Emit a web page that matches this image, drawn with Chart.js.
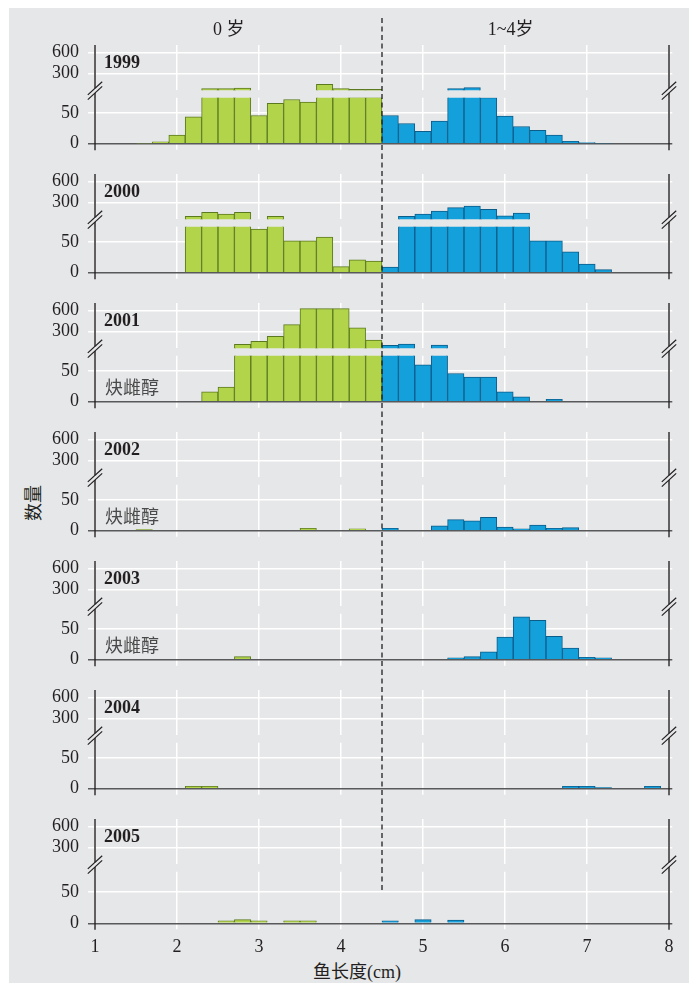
<!DOCTYPE html>
<html>
<head>
<meta charset="utf-8">
<script src="https://cdn.jsdelivr.net/npm/chart.js@4.4.1/dist/chart.umd.min.js"></script>
<style>
	body { margin: 0; background: #fff; }
	#fig { position: relative; width: 697px; height: 984px; overflow: hidden; }
	#bg { position: absolute; left: 9px; top: 8px; width: 680px; height: 975px; background: #e6e7e9; }
	#fig canvas { position: absolute; left: 0; }
	.lbl { position: absolute; color: #231f20; font-size: 18px; white-space: nowrap;
		font-family: "Liberation Serif", "Noto Sans CJK SC", serif; transform: translate(-50%, -50%); }
	#ylab { left: 32px; top: 503px; font-family: "Noto Sans CJK SC", sans-serif; transform: translate(-50%, -50%) rotate(-90deg); }
	#xlab { left: 357px; top: 970px; }
</style>
</head>
<body>
<div id="fig">
	<div id="bg"></div>
	<div class="lbl" id="ylab">数量</div>
	<div class="lbl" id="xlab">鱼长度(cm)</div>
</div>
<script>
// bin centres (cm), bins are 0.2 cm wide
const binCenters = [1.2, 1.4, 1.6, 1.8, 2.0, 2.2, 2.4, 2.6, 2.8, 3.0, 3.2, 3.4, 3.6, 3.8, 4.0, 4.2, 4.4,
	4.6, 4.8, 5.0, 5.2, 5.4, 5.6, 5.8, 6.0, 6.2, 6.4, 6.6, 6.8, 7.0, 7.2, 7.4, 7.6, 7.8];

const years = ['1999', '2000', '2001', '2002', '2003', '2004', '2005'];

const counts1999 = [0, 0, 1, 3, 14, 44, 86, 86, 96, 46, 66, 72, 68, 148, 86, 77, 77,
	46, 33, 20, 37, 86, 100, 75, 45, 28, 22, 14, 4, 2, 1, 0, 0, 0];
const counts2000 = [0, 0, 0, 0, 0, 106, 163, 139, 163, 71, 106, 52, 52, 58, 10, 21, 19,
	9, 106, 139, 181, 229, 253, 205, 114, 153, 52, 52, 34, 14, 5, 0, 0, 0];
const counts2001 = [0, 0, 0, 0, 0, 0, 16, 24, 120, 163, 234, 400, 630, 630, 630, 357, 181,
	106, 124, 60, 110, 46, 40, 40, 16, 8, 0, 4, 0, 0, 0, 0, 0, 0];
const counts2002 = [0, 0, 2, 0, 0, 0, 0, 0, 0, 0, 0, 0, 4, 0, 0, 3, 0,
	4, 0, 0, 8, 18, 16, 22, 6, 3, 9, 4, 5, 0, 0, 0, 0, 0];
const counts2003 = [0, 0, 0, 0, 0, 0, 0, 0, 5, 0, 0, 0, 0, 0, 0, 0, 0,
	0, 0, 0, 0, 3, 5, 13, 37, 70, 64, 38, 19, 4, 3, 0, 0, 0];
const counts2004 = [0, 0, 0, 0, 0, 4, 4, 0, 0, 0, 0, 0, 0, 0, 0, 0, 0,
	0, 0, 0, 0, 0, 0, 0, 0, 0, 0, 0, 4, 4, 2, 0, 0, 4];
const counts2005 = [0, 0, 0, 0, 0, 0, 0, 4, 6, 4, 0, 4, 4, 0, 0, 0, 0,
	4, 0, 6, 0, 5, 0, 0, 0, 0, 0, 0, 0, 0, 0, 0, 0, 0];
const yearCounts = [counts1999, counts2000, counts2001, counts2002, counts2003, counts2004, counts2005];

const upperTicks = [300, 600];
const lowerTicks = [0, 50];
const xTicks = [1, 2, 3, 4, 5, 6, 7, 8];

const ageGroups = ['0 岁', '1~4岁'];
const ageSplit = 4.5;
const treatedYears = ['2001', '2002', '2003'];
const treatedLabel = '炔雌醇';

// colours
const greenFill = '#b2d44b', greenLine = '#5b7a1f';
const blueFill = '#14a0da', blueLine = '#0b5d8a';
const ink = '#231f20';
const serif = '"Liberation Serif", serif';

// layout (px, page coordinates)
const firstTop = 45, pitch = 129;
const upperMin = 65, upperMax = 710, upperH = 45.15;
const lowerGap = 52.7;
const lowerH = [46, 46, 46, 46, 46, 46, 51.6];
const lowerMax = [75, 75, 75, 75, 75, 75, 83];

const fig = document.getElementById('fig');

const panelDecor = {
	id: 'panelDecor',
	afterDraw(chart, args, o) {
		const ctx = chart.ctx, a = chart.chartArea;
		const x = chart.scales.x, y = chart.scales.y;
		const left = x.getPixelForValue(xTicks[0]);
		const right = x.getPixelForValue(xTicks[xTicks.length - 1]);
		const mid = x.getPixelForValue(ageSplit);
		const seg = (x1, y1, x2, y2) => { ctx.beginPath(); ctx.moveTo(x1, y1); ctx.lineTo(x2, y2); ctx.stroke(); };
		ctx.save();
		ctx.strokeStyle = ink;
		ctx.fillStyle = ink;
		ctx.lineWidth = 1.4;
		if (o.part === 'upper') {
			const end = a.bottom - 1.85;
			seg(left, a.top, left, end);
			seg(right, a.top, right, end);
			ctx.textBaseline = 'middle';
			ctx.textAlign = 'left';
			ctx.font = 'bold 18px ' + serif;
			ctx.fillText(o.year, a.left + 9, y.getPixelForValue((upperTicks[0] + upperTicks[1]) / 2));
			if (o.headers) {
				ctx.font = '18px "Liberation Serif", "Noto Sans CJK SC"';
				ctx.textAlign = 'center';
				ageGroups.forEach((g, k) => ctx.fillText(g, x.getPixelForValue(o.headerAt[k]), a.top - 14.5));
			}
		} else {
			const s1 = a.top - 9.4, s2 = a.top - 4.7;
			[left, right].forEach(px => {
				ctx.lineWidth = 1.4;
				seg(px, s2, px, a.bottom + 6.5);
				ctx.lineWidth = 1.2;
				[s1, s2].forEach(c => seg(px - 7.2, c + 6.6, px + 7.2, c - 6.6));
			});
			if (o.note) {
				ctx.font = '18px "Noto Sans CJK SC"';
				ctx.fillStyle = '#4a4a4a';
				ctx.textBaseline = 'middle';
				ctx.textAlign = 'left';
				ctx.fillText(o.note, a.left + 10, y.getPixelForValue(24));
			}
		}
		// age divider, given in page y
		const to = o.dashToValue != null ? y.getPixelForValue(o.dashToValue) : o.dashTo - o.top;
		ctx.strokeStyle = ink;
		ctx.lineWidth = 1.3;
		ctx.setLineDash([5, 3.5]);
		seg(mid, o.dashFrom - o.top, mid, to);
		ctx.restore();
	}
};

function addCanvas(top, height) {
	const c = document.createElement('canvas');
	c.width = 697;
	c.height = height;
	c.style.top = top + 'px';
	fig.appendChild(c);
	return c;
}

function makeChart(i, part) {
	const T = firstTop + pitch * i;
	const last = i === years.length - 1;
	const vals = yearCounts[i];
	let top, bottom, areaTop, areaH, yMin, yMax, ticks, cut, decor;
	if (part === 'upper') {
		top = i === 0 ? 10 : T - 30;
		bottom = T + 72;
		areaTop = T; areaH = upperH;
		yMin = upperMin; yMax = upperMax; ticks = upperTicks;
		cut = v => v > lowerMax[i] ? v : null;
		decor = { part, top, year: years[i], headers: i === 0, headerAt: [2.63, 6.07],
			dashFrom: i === 0 ? 18 : T - 20, dashTo: T + 49 };
	} else {
		top = T + 28;
		bottom = last ? 983 : T + 124;
		areaTop = T + lowerGap; areaH = lowerH[i];
		yMin = 0; yMax = lowerMax[i]; ticks = lowerTicks;
		cut = v => v > 0 ? v : null;
		decor = { part, top, dashFrom: T + 49, dashTo: T + pitch - 20, dashToValue: last ? 50 : null,
			note: treatedYears.includes(years[i]) ? treatedLabel : null };
	}
	const height = bottom - top;
	const padTop = areaTop - top;
	const xH = height - padTop - areaH;
	const canvas = addCanvas(top, height);
	return new Chart(canvas, {
		type: 'bar',
		data: {
			datasets: [{
				label: years[i],
				data: binCenters.map((c, k) => ({ x: c, y: cut(vals[k]) })),
				backgroundColor: c => (c.parsed && c.parsed.x < ageSplit) ? greenFill : blueFill,
				borderColor: c => (c.parsed && c.parsed.x < ageSplit) ? greenLine : blueLine,
				borderWidth: 1,
				barPercentage: 1,
				categoryPercentage: 1,
				clip: 0
			}]
		},
		options: {
			responsive: false,
			animation: false,
			devicePixelRatio: 1,
			layout: { autoPadding: false, padding: { left: 9, right: 24.72, top: padTop, bottom: 0 } },
			plugins: { legend: { display: false }, tooltip: { enabled: false }, panelDecor: decor },
			scales: {
				x: {
					type: 'linear', min: 1, max: 8.04, offset: false,
					afterBuildTicks: s => { s.ticks = xTicks.map(v => ({ value: v })); },
					afterFit: s => { s.height = xH; },
					grid: { offset: false, color: '#ffffff', lineWidth: 1.5, drawTicks: part === 'lower', tickLength: 6 },
					border: { display: false },
					ticks: { display: part === 'lower' && last, autoSkip: false, maxRotation: 0, padding: 7,
						color: ink, font: { family: serif, size: 18 } }
				},
				y: {
					min: yMin, max: yMax,
					afterBuildTicks: s => { s.ticks = ticks.map(v => ({ value: v })); },
					afterFit: s => { s.width = 86; },
					grid: {
						color: c => c.tick && c.tick.value === 0 ? '#58595b' : '#ffffff',
						lineWidth: 1.5, tickLength: 7
					},
					border: { display: false },
					ticks: { autoSkip: false, padding: 9, color: ink, font: { family: serif, size: 18 } }
				}
			}
		},
		plugins: [panelDecor]
	});
}

years.forEach((y, i) => {
	makeChart(i, 'upper');
	makeChart(i, 'lower');
});
</script>
</body>
</html>
